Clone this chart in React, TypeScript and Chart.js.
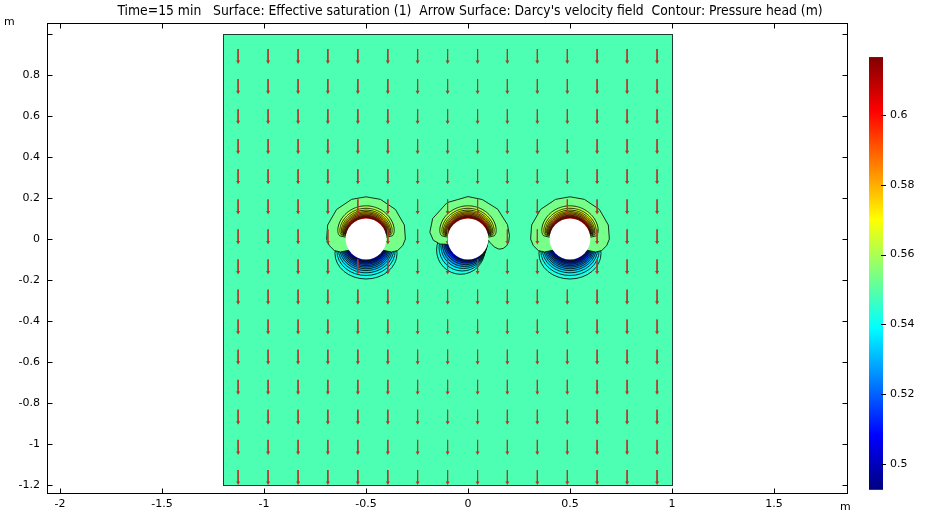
import React, { useEffect, useRef } from "react";
import { Chart, registerables } from "chart.js";
Chart.register(...registerables);

// ---------- text ----------
const TITLE =
  "Time=15 min   Surface: Effective saturation (1)  Arrow Surface: Darcy's velocity field  Contour: Pressure head (m)";
const AXIS_UNIT = "m";

// ---------- axes ----------
const xRange = [-2.064, 1.863];
const yRange = [-1.244, 1.054];
const xStep = 0.5;
const yStep = 0.2;
const yHiddenLabel = 1.0;

// ---------- geometry of the model ----------
const domainX = [-1.2, 1.0];
const domainY = [-1.2, 1.0];
const holeX = [-0.5, 0, 0.5];
const holeY = [0, 0, 0];
const holeR = 0.1;

// ---------- arrow surface (Darcy velocity, all pointing down) ----------
const arrowX = [-1.127, -0.98, -0.833, -0.687, -0.54, -0.393, -0.247, -0.1, 0.047, 0.193, 0.34, 0.487, 0.633, 0.78, 0.927];
const arrowY = [0.927, 0.78, 0.633, 0.487, 0.34, 0.193, 0.047, -0.1, -0.247, -0.393, -0.54, -0.687, -0.833, -0.98, -1.127];
const arrowShaft = 0.062;

// ---------- effective saturation ----------
const bgLevel = 0.5485;
const cbMin = 0.4926;
const cbMax = 0.6166;
const cbTicks = [0.5, 0.52, 0.54, 0.56, 0.58, 0.6];

// outer cap contour around each hole: angle (deg) / radius (m)
const capAnglesSide = [-33, -27, -20, -10, 0, 20, 45, 70, 90, 110, 135, 160, 180, 190, 200, 207, 213];
const capRadiiSide = [0.1, 0.14, 0.165, 0.183, 0.193, 0.2, 0.204, 0.206, 0.206, 0.206, 0.204, 0.2, 0.193, 0.183, 0.165, 0.14, 0.1];
const capAnglesMid = [-3, -8, -13, -17, -18, -15, -10, -4, 5, 20, 45, 70, 90, 120, 150, 170, 182, 190, 195];
const capRadiiMid = [0.1, 0.107, 0.12, 0.138, 0.16, 0.178, 0.192, 0.2, 0.204, 0.206, 0.206, 0.205, 0.207, 0.205, 0.2, 0.19, 0.17, 0.14, 0.1];
const capLevel = 0.5535;

// inner upper contours (distance above hole surface, half angular span)
const domeDelta = [0.062, 0.05, 0.041, 0.034, 0.028, 0.022, 0.016, 0.011, 0.006];
const domeHalfSpan = [85, 82, 80, 78, 77, 76, 75, 74, 73];
const domeLevels = [0.558, 0.563, 0.568, 0.573, 0.578, 0.584, 0.591, 0.599, 0.608];
const domeCoreLevel = 0.615;

// lower contours (distance below hole surface)
const lowDeltaSide = [0.095, 0.078, 0.065, 0.054, 0.045, 0.037, 0.03, 0.023, 0.017, 0.011, 0.006];
const lowLevelsSide = [0.545, 0.541, 0.537, 0.533, 0.529, 0.525, 0.521, 0.517, 0.512, 0.506, 0.5];
const lowDeltaMid = [0.072, 0.056, 0.044, 0.034, 0.025, 0.017, 0.01, 0.005];
const lowLevelsMid = [0.545, 0.54, 0.535, 0.529, 0.523, 0.516, 0.509, 0.502];
const lowCoreLevel = 0.496;
const lowShift = [0, -0.5, 0];
const lowGrowA = [0.55, 0.25, 0.55];

const capAngles = [capAnglesSide, capAnglesMid, capAnglesSide];
const capRadii = [capRadiiSide, capRadiiMid, capRadiiSide];
const lowDeltas = [lowDeltaSide, lowDeltaMid, lowDeltaSide];
const lowLevels = [lowLevelsSide, lowLevelsMid, lowLevelsSide];

// ---------- helpers ----------
const clamp = (v: number) => Math.max(0, Math.min(1, v));
function jetRGB(v: number): [number, number, number] {
  const t = clamp((v - cbMin) / (cbMax - cbMin));
  const r = clamp(1.5 - Math.abs(4 * t - 3));
  const g = clamp(1.5 - Math.abs(4 * t - 2));
  const b = clamp(1.5 - Math.abs(4 * t - 1));
  return [Math.round(r * 255), Math.round(g * 255), Math.round(b * 255)];
}
const jet = (v: number) => {
  const [r, g, b] = jetRGB(v);
  return `rgb(${r},${g},${b})`;
};
const fmt = (v: number) => {
  const r = Math.round(v * 100) / 100;
  return String(r === 0 ? 0 : r);
};

const FONT = "'DejaVu Sans', sans-serif";
const ARROW_COLOR = "#b8362c";

function buildArrows() {
  const shaft: any[] = [];
  const heads: any[] = [];
  for (const x of arrowX) {
    for (const y of arrowY) {
      let inside = false;
      for (let i = 0; i < holeX.length; i++) {
        if (Math.hypot(x - holeX[i], y - holeY[i]) < holeR + 0.004) inside = true;
      }
      if (inside) continue;
      shaft.push({ x, y }, { x, y: y - arrowShaft }, { x, y: null });
      heads.push({ x, y: y - arrowShaft });
    }
  }
  return { shaft, heads };
}

const noPad = (s: any) => {
  s.paddingTop = 0;
  s.paddingBottom = 0;
  s.paddingLeft = 0;
  s.paddingRight = 0;
};

const fieldPlugin = {
  id: "field",
  beforeDatasetsDraw(chart: any) {
    const { ctx, chartArea: ca } = chart;
    const xs = chart.scales.x;
    const ys = chart.scales.y;
    const px = (v: number) => xs.getPixelForValue(v);
    const py = (v: number) => ys.getPixelForValue(v);
    const sx = px(1) - px(0);
    const sy = py(0) - py(1);
    ctx.save();
    ctx.beginPath();
    ctx.rect(ca.left, ca.top, ca.right - ca.left, ca.bottom - ca.top);
    ctx.clip();
    const L = px(domainX[0]);
    const R = px(domainX[1]);
    const T = py(domainY[1]);
    const B = py(domainY[0]);
    ctx.fillStyle = jet(bgLevel);
    ctx.fillRect(L, T, R - L, B - T);
    ctx.beginPath();
    ctx.rect(L, T, R - L, B - T);
    ctx.clip();

    ctx.lineWidth = 1;
    ctx.strokeStyle = "rgba(5,20,10,0.88)";

    for (let i = 0; i < holeX.length; i++) {
      const hx = holeX[i];
      const hy = holeY[i];
      // lower contours (ellipses)
      const dl = lowDeltas[i];
      const lv = lowLevels[i];
      const ell = (k: number) => {
        const d = dl[k];
        const cx = hx + lowShift[i] * d;
        const cy = hy - 0.74 * d;
        const a = holeR + lowGrowA[i] * d;
        const b = holeR + 0.26 * d;
        ctx.beginPath();
        ctx.ellipse(px(cx), py(cy), a * sx, b * sy, 0, 0, Math.PI * 2);
      };
      for (let k = 0; k < dl.length; k++) {
        const next = k + 1 < lv.length ? lv[k + 1] : lowCoreLevel;
        ell(k);
        ctx.fillStyle = jet((lv[k] + next) / 2);
        ctx.fill();
      }
      for (let k = 0; k < dl.length; k++) {
        ell(k);
        ctx.stroke();
      }
      // cap contour
      const ang = capAngles[i];
      const rad = capRadii[i];
      const capPath = () => {
        ctx.beginPath();
        for (let j = 0; j < ang.length; j++) {
          const th = (ang[j] * Math.PI) / 180;
          const X = px(hx + rad[j] * Math.cos(th));
          const Y = py(hy + rad[j] * Math.sin(th));
          if (j === 0) ctx.moveTo(X, Y);
          else ctx.lineTo(X, Y);
        }
      };
      capPath();
      ctx.closePath();
      ctx.fillStyle = jet(capLevel);
      ctx.fill();
      capPath();
      ctx.stroke();
      // inner upper contours
      const domePath = (k: number) => {
        const lo = 90 - domeHalfSpan[k];
        const hi = 90 + domeHalfSpan[k];
        ctx.beginPath();
        let first = true;
        for (let a = lo; a <= hi + 0.001; a += 2) {
          const s = Math.sin((Math.PI * (a - lo)) / (hi - lo));
          const r = holeR + domeDelta[k] * Math.pow(Math.max(0, s), 0.22);
          const th = (a * Math.PI) / 180;
          const X = px(hx + r * Math.cos(th));
          const Y = py(hy + r * Math.sin(th));
          if (first) {
            ctx.moveTo(X, Y);
            first = false;
          } else ctx.lineTo(X, Y);
        }
      };
      for (let k = 0; k < domeDelta.length; k++) {
        const next = k + 1 < domeLevels.length ? domeLevels[k + 1] : domeCoreLevel;
        domePath(k);
        ctx.closePath();
        ctx.fillStyle = jet((domeLevels[k] + next) / 2);
        ctx.fill();
      }
      for (let k = 0; k < domeDelta.length; k++) {
        domePath(k);
        ctx.stroke();
      }
    }
    ctx.restore();
  },
  afterDatasetsDraw(chart: any) {
    const { ctx, chartArea: ca } = chart;
    const xs = chart.scales.x;
    const ys = chart.scales.y;
    const cb = chart.scales.cb;
    const px = (v: number) => xs.getPixelForValue(v);
    const py = (v: number) => ys.getPixelForValue(v);
    const sx = px(1) - px(0);
    const sy = py(0) - py(1);
    ctx.save();
    // holes
    ctx.fillStyle = "#ffffff";
    for (let i = 0; i < holeX.length; i++) {
      ctx.beginPath();
      ctx.ellipse(px(holeX[i]), py(holeY[i]), holeR * sx, holeR * sy, 0, 0, Math.PI * 2);
      ctx.fill();
    }
    // domain outline
    ctx.strokeStyle = "#1d3d2e";
    ctx.lineWidth = 1;
    const L = Math.round(px(domainX[0])) + 0.5;
    const R = Math.round(px(domainX[1])) + 0.5;
    const T = Math.round(py(domainY[1])) + 0.5;
    const B = Math.round(py(domainY[0])) + 0.5;
    ctx.strokeRect(L, T, R - L, B - T);

    // frame
    ctx.strokeStyle = "#000";
    const fl = Math.round(ca.left) + 0.5;
    const ft = Math.round(ca.top) + 0.5;
    const fr = Math.round(ca.right) - 0.5;
    const fb = Math.round(ca.bottom) - 0.5;
    ctx.strokeRect(fl, ft, fr - fl, fb - ft);
    ctx.beginPath();
    for (const t of xs.ticks) {
      const X = Math.round(xs.getPixelForValue(t.value)) + 0.5;
      ctx.moveTo(X, fb);
      ctx.lineTo(X, fb - 5);
      ctx.moveTo(X, ft);
      ctx.lineTo(X, ft + 5);
    }
    for (const t of ys.ticks) {
      const Y = Math.round(ys.getPixelForValue(t.value)) + 0.5;
      ctx.moveTo(fl, Y);
      ctx.lineTo(fl + 5, Y);
      ctx.moveTo(fr, Y);
      ctx.lineTo(fr - 5, Y);
    }
    ctx.stroke();

    // colour bar
    const bx0 = 869;
    const bx1 = 883;
    const top = cb.getPixelForValue(cbMax);
    const bot = cb.getPixelForValue(cbMin);
    const grad = ctx.createLinearGradient(0, bot, 0, top);
    for (const s of [0, 0.125, 0.375, 0.625, 0.875, 1]) {
      grad.addColorStop(s, jet(cbMin + s * (cbMax - cbMin)));
    }
    ctx.fillStyle = grad;
    ctx.fillRect(bx0, top, bx1 - bx0, bot - top);
    ctx.beginPath();
    for (const v of cbTicks) {
      const Y = Math.round(cb.getPixelForValue(v)) + 0.5;
      ctx.moveTo(bx1 - 2, Y);
      ctx.lineTo(bx1 + 3, Y);
    }
    ctx.stroke();

    // title and unit labels
    ctx.fillStyle = "#000";
    ctx.textBaseline = "middle";
    ctx.textAlign = "center";
    ctx.font = "13.8px 'DejaVu Sans Condensed', 'DejaVu Sans', sans-serif";
    ctx.fillText(TITLE, 470, 11);
    ctx.font = `11px ${FONT}`;
    ctx.textAlign = "left";
    ctx.fillText(AXIS_UNIT, 4, 22);
    ctx.fillText(AXIS_UNIT, 840, 507);
    ctx.restore();
  },
};

export default function App() {
  const ref = useRef<HTMLCanvasElement>(null);
  useEffect(() => {
    const canvas = ref.current;
    if (!canvas) return;
    const { shaft, heads } = buildArrows();
    const tickFont = { family: FONT, size: 11 };
    const chart = new Chart(canvas, {
      type: "scatter",
      data: {
        datasets: [
          {
            data: shaft,
            showLine: true,
            spanGaps: false,
            borderColor: ARROW_COLOR,
            borderWidth: 1,
            pointRadius: 0,
            xAxisID: "x",
            yAxisID: "y",
          },
          {
            data: heads,
            showLine: false,
            pointStyle: "triangle",
            rotation: 180,
            pointRadius: 2.3,
            pointBackgroundColor: ARROW_COLOR,
            pointBorderColor: ARROW_COLOR,
            pointBorderWidth: 0,
            xAxisID: "x",
            yAxisID: "y",
          },
        ],
      } as any,
      options: {
        responsive: false,
        devicePixelRatio: 1,
        animation: false,
        events: [],
        layout: { padding: { left: 0, right: 0, top: 23, bottom: 0 } },
        plugins: { legend: { display: false }, tooltip: { enabled: false } },
        scales: {
          x: {
            type: "linear",
            min: xRange[0],
            max: xRange[1],
            grid: { display: false, drawTicks: false },
            border: { display: false },
            ticks: {
              stepSize: xStep,
              includeBounds: false,
              padding: 4,
              color: "#000",
              font: tickFont,
              maxRotation: 0,
              autoSkip: false,
              callback: (v: any) => fmt(Number(v)),
            },
            afterFit: (s: any) => {
              s.height = 26;
              noPad(s);
            },
          },
          y: {
            type: "linear",
            min: yRange[0],
            max: yRange[1],
            grid: { display: false, drawTicks: false },
            border: { display: false },
            ticks: {
              stepSize: yStep,
              includeBounds: false,
              padding: 7,
              color: "#000",
              font: tickFont,
              autoSkip: false,
              callback: (v: any) => (Math.abs(Number(v) - yHiddenLabel) < 1e-6 ? "" : fmt(Number(v))),
            },
            afterFit: (s: any) => {
              s.width = 47;
              noPad(s);
            },
          },
          cb: {
            type: "linear",
            axis: "y",
            position: "right",
            min: 0.4914,
            max: 0.62636,
            grid: { display: false, drawTicks: false },
            border: { display: false },
            ticks: {
              stepSize: 0.02,
              includeBounds: false,
              padding: 42,
              color: "#000",
              font: tickFont,
              autoSkip: false,
              callback: (v: any) => (Number(v) > cbMax || Number(v) < cbMin ? "" : fmt(Number(v))),
            },
            afterFit: (s: any) => {
              s.width = 81;
              noPad(s);
            },
          },
        },
      } as any,
      plugins: [fieldPlugin],
    });
    return () => chart.destroy();
  }, []);
  return (
    <div style={{ position: "fixed", left: 0, top: 0, width: 929, height: 520, background: "#fff" }}>
      <canvas ref={ref} width={929} height={520} style={{ display: "block", width: 929, height: 520 }} />
    </div>
  );
}
